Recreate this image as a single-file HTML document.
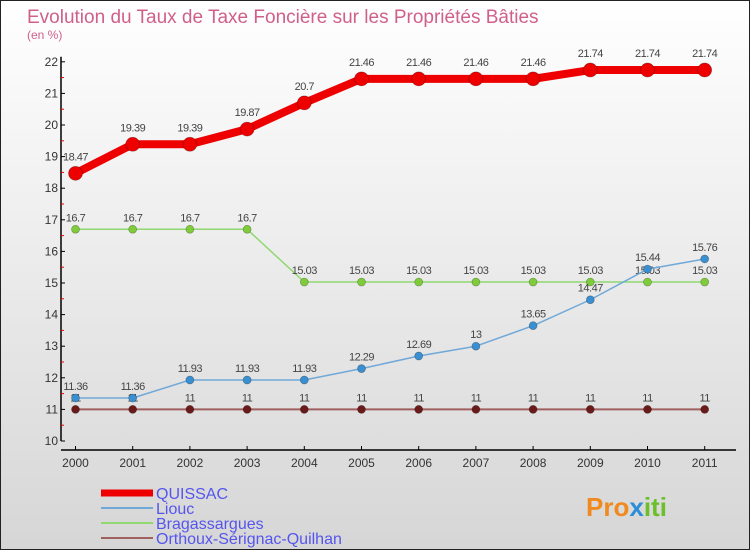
<!DOCTYPE html>
<html><head><meta charset="utf-8">
<style>
html,body{margin:0;padding:0;}
body{width:750px;height:550px;overflow:hidden;font-family:"Liberation Sans",sans-serif;}
#wrap{position:relative;width:748px;height:548px;border:1px solid #222;background:linear-gradient(#ffffff,#d6d6d6);}
svg text{font-family:"Liberation Sans",sans-serif;}
</style></head>
<body>
<div id="wrap">
<svg id="chart" width="748" height="548">
<text x="26" y="22" font-size="19" fill="#d0608a">Evolution du Taux de Taxe Foncière sur les Propriétés Bâties</text>
<text x="26" y="38" font-size="12" fill="#d0608a">(en %)</text>
<g id="axes"></g>
<g id="series"></g>
<g id="legend"></g>
<text x="585" y="515" font-size="26" font-weight="bold" fill="#f08a20">Pro<tspan fill="#2a8fd8">x</tspan><tspan fill="#6cbf2a">iti</tspan></text>
</svg>
</div>
<script>
const years=[2000,2001,2002,2003,2004,2005,2006,2007,2008,2009,2010,2011];
const quissac=[18.47,19.39,19.39,19.87,20.7,21.46,21.46,21.46,21.46,21.74,21.74,21.74];
const liouc=[11.36,11.36,11.93,11.93,11.93,12.29,12.69,13,13.65,14.47,15.44,15.76];
const bragassargues=[16.7,16.7,16.7,16.7,15.03,15.03,15.03,15.03,15.03,15.03,15.03,15.03];
const orthoux=[11,11,11,11,11,11,11,11,11,11,11,11];
const yTicks=[10,11,12,13,14,15,16,17,18,19,20,21,22];
const seriesNames=["QUISSAC","Liouc","Bragassargues","Orthoux-Sérignac-Quilhan"];

const NS="http://www.w3.org/2000/svg";
function xs(i){return 74.5+i*57.2;}
function ys(v){return 440-(v-10)*31.6;}
function mk(tag,attrs,parent){const e=document.createElementNS(NS,tag);for(const k in attrs)e.setAttribute(k,attrs[k]);parent.appendChild(e);return e;}
const axes=document.getElementById('axes');
let a=mk('line',{x1:60,y1:ys(22)-5,x2:60,y2:ys(10),stroke:'#000','stroke-width':1.5},axes);


a=mk('line',{x1:60,y1:449,x2:735,y2:449,stroke:'#000','stroke-width':1.5},axes);


yTicks.forEach(v=>{
  mk('line',{x1:60,y1:ys(v),x2:64,y2:ys(v),stroke:'#000'},axes);
  if(v<22) mk('line',{x1:60,y1:ys(v+0.5),x2:63,y2:ys(v+0.5),stroke:'#e00'},axes);
  const t=mk('text',{x:57,y:ys(v)+4,'font-size':12,'text-anchor':'end',fill:'#333'},axes);
  t.textContent=v;
  
  
});
years.forEach((y,i)=>{
  mk('line',{x1:xs(i),y1:449,x2:xs(i),y2:445,stroke:'#000'},axes);
  const t=mk('text',{x:xs(i),y:466,'font-size':12,'text-anchor':'middle',fill:'#333'},axes);
  t.textContent=y;
  
  
});
const sg=document.getElementById('series');
function draw(vals,color,w,r,fill,name,labelDy){
  const g=mk('g',{},sg);
  
  
  const p=mk('polyline',{points:vals.map((v,i)=>xs(i)+','+ys(v)).join(' '),fill:'none',stroke:color,'stroke-width':w,'stroke-linejoin':'round'},g);
  
  
  vals.forEach((v,i)=>{
    const c=mk('circle',{cx:xs(i),cy:ys(v),r:r,fill:fill,stroke:'rgba(0,0,0,0.3)','stroke-width':0.7},g);
    
    
    const t=mk('text',{x:xs(i),y:ys(v)+labelDy,'font-size':11,'text-anchor':'middle',fill:'#444','letter-spacing':'-0.5'},g);
    t.textContent=v;
    
    
  });
}
draw(orthoux,'#a06060',2,4,'#6b1a1a','orthoux',-8);
draw(bragassargues,'#90d870',1.5,4,'#7fcc3a','bragassargues',-8);
draw(liouc,'#70a8d8',1.5,4,'#3a8fd0','liouc',-8);
draw(quissac,'#ee0000',8,7,'#ee0000','quissac',-13);
const lg=document.getElementById('legend');
const lc=['#ee0000','#70a8d8','#90d870','#a06060'],lw=[7,2,2,2],ly=[492,507,522,537];
seriesNames.forEach((n,i)=>{
  const g=mk('g',{},lg);
  
  
  mk('line',{x1:100,y1:ly[i],x2:152,y2:ly[i],stroke:lc[i],'stroke-width':lw[i]},g);
  const t=mk('text',{x:155,y:ly[i]+6,'font-size':16,fill:'#5555ee'},g);
  t.textContent=n;
});
</script>
</body></html>
